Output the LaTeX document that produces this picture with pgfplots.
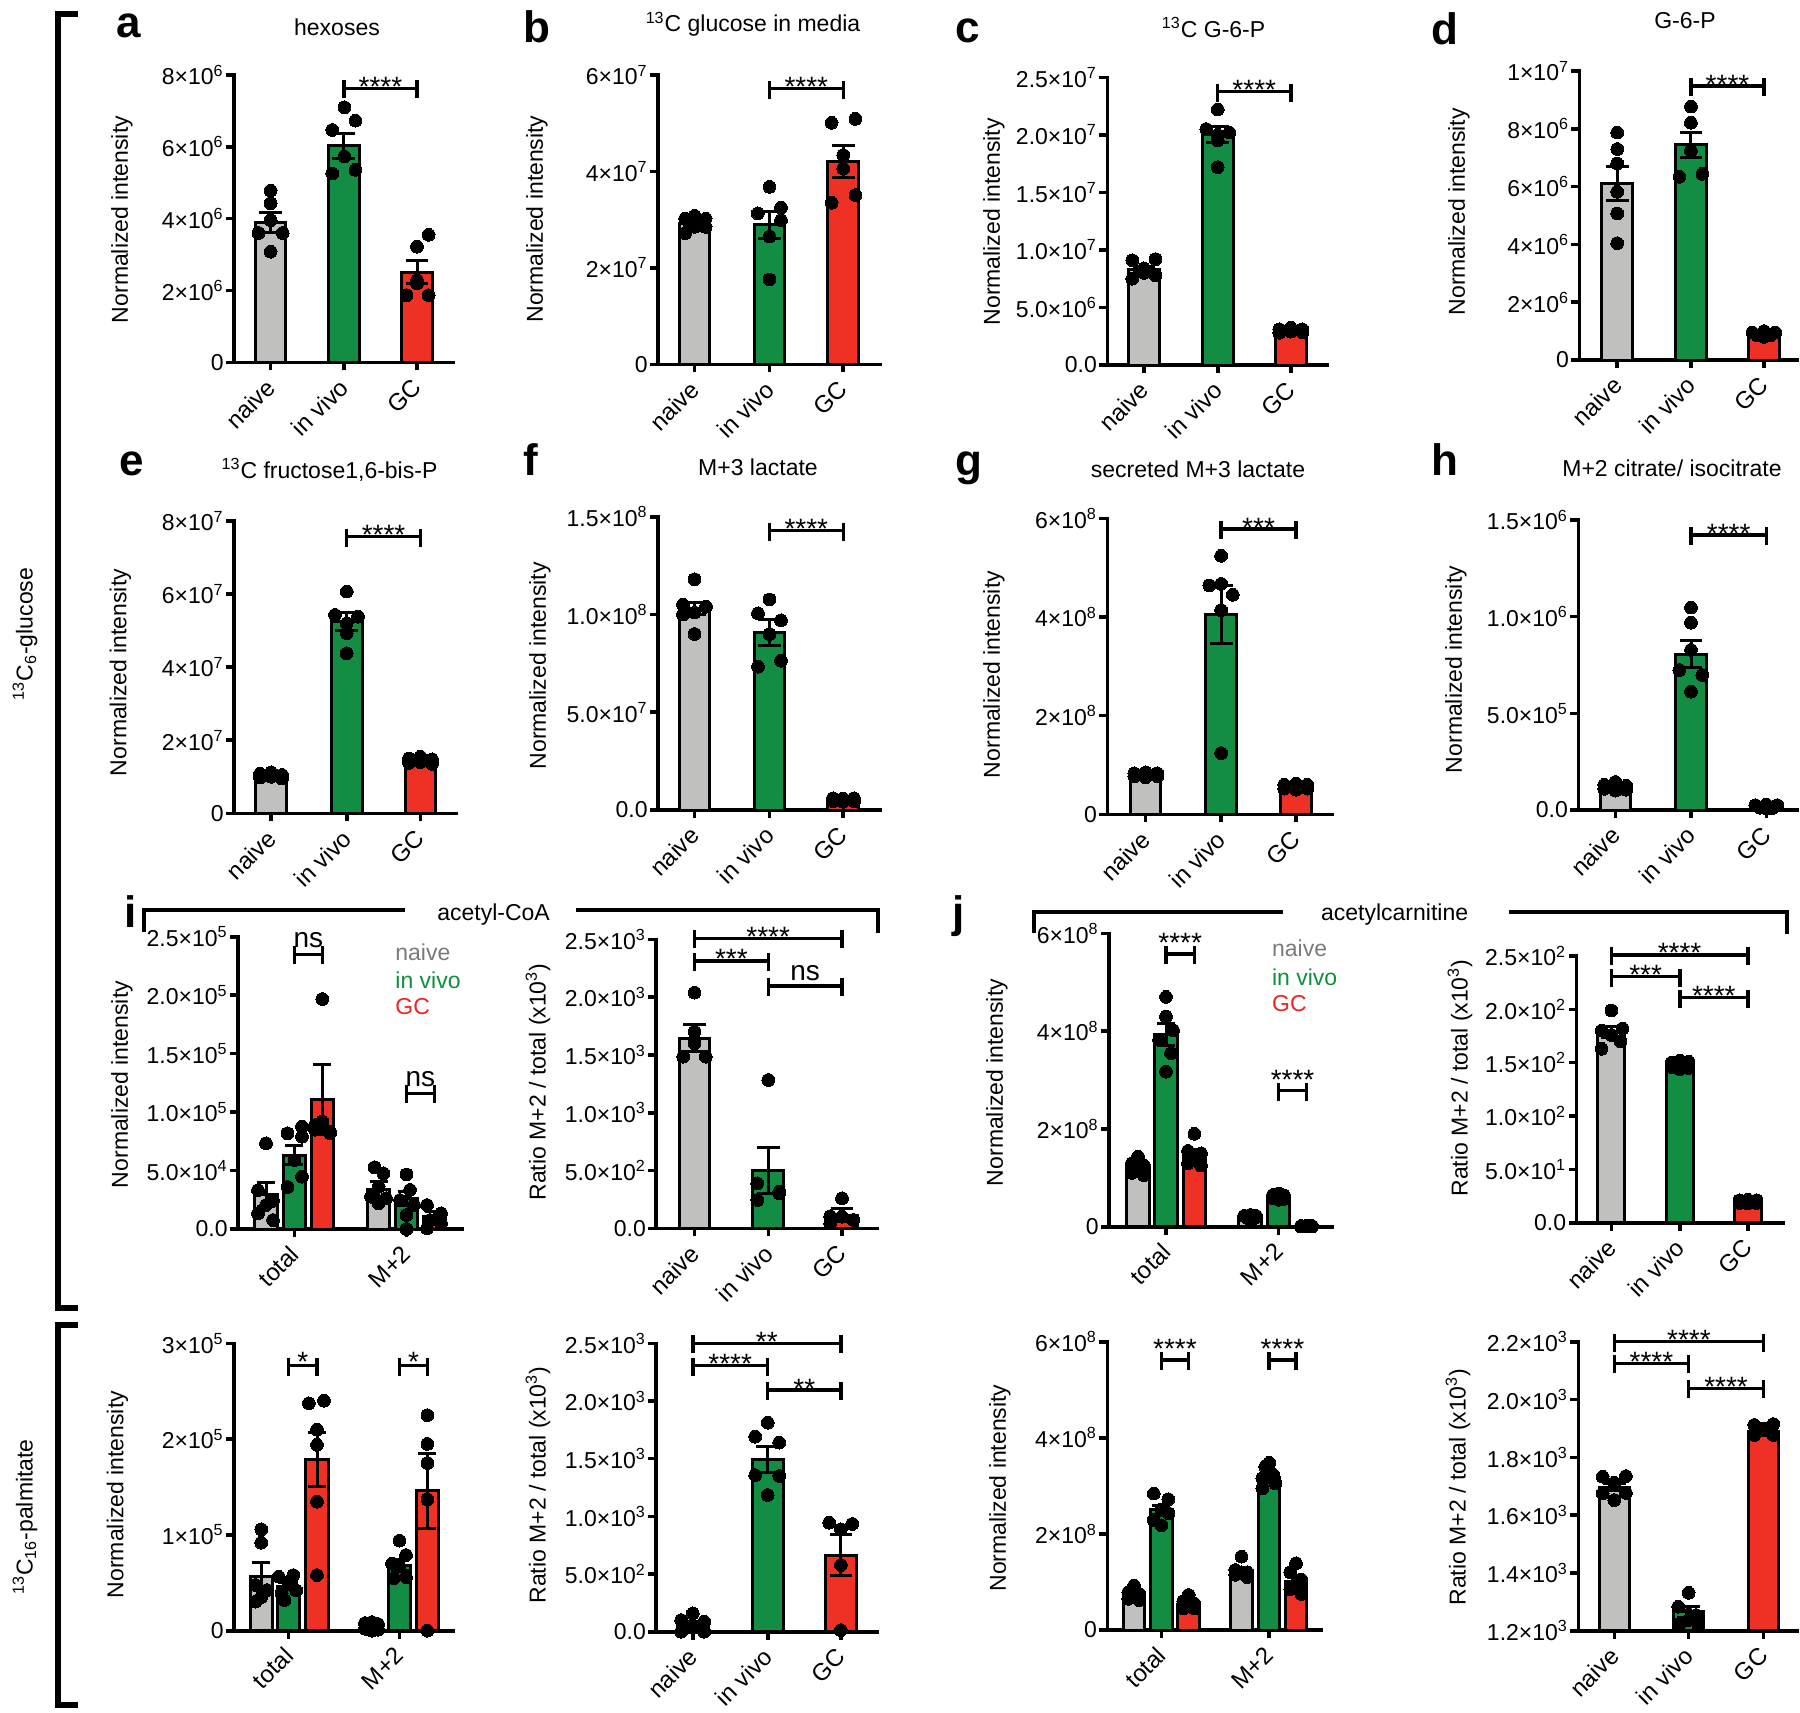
\documentclass[border=0pt]{standalone}
\usepackage{fontspec}
\setmainfont{Liberation Sans}
\usepackage{pgfplots}
\pgfplotsset{compat=1.18}
\usetikzlibrary{calc}
\definecolor{cgray}{RGB}{192,192,190}
\definecolor{cgreen}{RGB}{19,141,67}
\definecolor{cred}{RGB}{238,49,36}
\definecolor{lgray}{RGB}{122,122,122}
\definecolor{lgreen}{RGB}{13,143,62}
\definecolor{lred}{RGB}{238,34,34}
\newcommand{\sci}[2]{#1×10\textsuperscript{#2}}
\newcommand{\fs}[1]{\fontsize{#1}{#1}\selectfont}
\pgfplotsset{
  prism/.style={
    scale only axis, clip=false, anchor=south west, enlargelimits=false,
    axis lines=left, axis line style={-, line width=1.8pt, line cap=rect},
    tick align=outside, major tick length=4pt,
    tick style={line width=1.8pt, black},
    xmin=0, ymin=0, minor tick num=0, scaled ticks=false,
    yticklabel style={font=\fs{11.5}, anchor=east, inner sep=1pt},
    xticklabel style={font=\fs{12}, xshift=-3pt, yshift=1.5pt, rotate=45, anchor=north east},
  },
  mybar/.style={ybar, bar shift=0pt, bar width=#1, draw=black, line width=1.5pt},
  errb/.style={/pgfplots/error bars/y dir=both, /pgfplots/error bars/y explicit,
    /pgfplots/error bars/error bar style={line width=1.5pt, black},
    /pgfplots/error bars/error mark options={rotate=90, mark size=#1, line width=1.5pt, black}},
  dots/.style={only marks, mark=*, mark size=3.2pt, black, mark options={fill=black, draw=black, line width=0pt}},
}
% bracket: x1, x2, y, text, yshift of text
\newcommand{\brk}[5]{%
  \draw[line width=1.7pt] (axis cs:#1,#3) -- (axis cs:#2,#3);
  \draw[line width=1.7pt] ([yshift=4pt]axis cs:#1,#3) -- ([yshift=-5pt]axis cs:#1,#3);
  \draw[line width=1.7pt] ([yshift=4pt]axis cs:#2,#3) -- ([yshift=-5pt]axis cs:#2,#3);
  \node[anchor=base, inner sep=0pt, yshift=#5, font=\fs{14}] at ($(axis cs:#1,#3)!0.5!(axis cs:#2,#3)$) {#4};
}
\begin{document}
\begin{tikzpicture}
\useasboundingbox (0,0) rectangle (900pt,-856.5pt);

% ---------- a ----------
\begin{axis}[prism, at={(117pt,-181.15pt)}, width=109.5pt, height=143.65pt, xmax=219, ymax=8e6,
  ytick={0,2e6,4e6,6e6,8e6}, yticklabels={0,\sci{2}{6},\sci{4}{6},\sci{6}{6},\sci{8}{6}},
  xtick={36.6,109.8,183.0}, xticklabels={naive,in vivo,GC}]
\addplot[mybar=30.7, fill=cgray, errb=5.7pt] coordinates {(36.6,3.89e6) +- (0,0.28e6)};
\addplot[mybar=30.7, fill=cgreen, errb=5.7pt] coordinates {(109.8,6.03e6) +- (0,0.35e6)};
\addplot[mybar=30.7, fill=cred, errb=5.7pt] coordinates {(183.0,2.51e6) +- (0,0.32e6)};
\addplot[dots] coordinates {(36.6,4.78e6)(36.6,4.43e6)(36.6,3.96e6)(24.5,3.6e6)(48.7,3.6e6)(36.6,3.08e6)
 (110.4,7.10e6)(121.4,6.73e6)(98.2,6.47e6)(110.4,5.73e6)(121.4,5.36e6)(98.2,5.26e6)
 (194.6,3.55e6)(183,3.22e6)(183,2.29e6)(172.5,1.87e6)(194.6,1.87e6)(183,2.2e6)};
\brk{109.8}{183.0}{7.63e6}{****}{-4pt}
\end{axis}

% ---------- b ----------
\begin{axis}[prism, at={(329pt,-182.15pt)}, width=111pt, height=144.65pt, xmax=222, ymax=6e7,
  ytick={0,2e7,4e7,6e7}, yticklabels={0,\sci{2}{7},\sci{4}{7},\sci{6}{7}},
  xtick={36.5,111.5,185.2}, xticklabels={naive,in vivo,GC}]
\addplot[mybar=30.7, fill=cgray, errb=5.7pt] coordinates {(36.5,2.92e7) +- (0,0.05e7)};
\addplot[mybar=30.7, fill=cgreen, errb=5.7pt] coordinates {(111.5,2.89e7) +- (0,0.28e7)};
\addplot[mybar=30.7, fill=cred, errb=5.7pt] coordinates {(185.2,4.20e7) +- (0,0.33e7)};
\addplot[dots] coordinates {(27.2,3.02e7)(36.5,3.08e7)(47.6,3.02e7)(27.2,2.72e7)(47.6,2.85e7)(36.5,2.85e7)
 (111.5,3.68e7)(99.8,3.13e7)(123,2.99e7)(111.5,2.65e7)(111.5,1.76e7)(123,3.25e7)
 (173.6,5.01e7)(197.4,5.09e7)(185.2,4.34e7)(185.2,4.06e7)(173.6,3.35e7)(197.4,3.51e7)};
\brk{111.5}{185.2}{5.72e7}{****}{-4pt}
\end{axis}

% ---------- c ----------
\begin{axis}[prism, at={(553.65pt,-182.5pt)}, width=109.75pt, height=143.85pt, xmax=219.5, ymax=2.5e7,
  ytick={0,5e6,1e7,1.5e7,2e7,2.5e7}, yticklabels={0.0,\sci{5.0}{6},\sci{1.0}{7},\sci{1.5}{7},\sci{2.0}{7},\sci{2.5}{7}},
  xtick={36.6,110.4,183.5}, xticklabels={naive,in vivo,GC}]
\addplot[mybar=30.7, fill=cgray, errb=5.7pt] coordinates {(36.6,8.3e6) +- (0,0.3e6)};
\addplot[mybar=30.7, fill=cgreen, errb=5.7pt] coordinates {(110.4,2.0e7) +- (0,0.07e7)};
\addplot[mybar=30.7, fill=cred, errb=5.7pt] coordinates {(183.5,3.0e6) +- (0,0.1e6)};
\addplot[dots] coordinates {(25,9.1e6)(48.2,9.2e6)(36.6,8.4e6)(25,7.5e6)(48.2,7.8e6)(36.6,8.0e6)
 (110.4,2.22e7)(99,2.05e7)(122,2.02e7)(110.4,2.0e7)(110.4,1.95e7)(110.4,1.72e7)
 (172,3.1e6)(183.5,3.25e6)(195,3.1e6)(172,2.8e6)(195,2.85e6)(183.5,2.9e6)};
\brk{110.4}{183.5}{2.375e7}{****}{-4pt}
\end{axis}

% ---------- d ----------
\begin{axis}[prism, at={(789.7pt,-180pt)}, width=108.8pt, height=144.5pt, xmax=217.6, ymax=1e7,
  ytick={0,2e6,4e6,6e6,8e6,1e7}, yticklabels={0,\sci{2}{6},\sci{4}{6},\sci{6}{6},\sci{8}{6},\sci{1}{7}},
  xtick={37.8,111.5,184.7}, xticklabels={naive,in vivo,GC}]
\addplot[mybar=30.7, fill=cgray, errb=5.7pt] coordinates {(37.8,6.11e6) +- (0,0.6e6)};
\addplot[mybar=30.7, fill=cgreen, errb=5.7pt] coordinates {(111.5,7.44e6) +- (0,0.44e6)};
\addplot[mybar=30.7, fill=cred, errb=5.7pt] coordinates {(184.7,0.9e6) +- (0,0.04e6)};
\addplot[dots] coordinates {(37.8,7.87e6)(37.8,7.30e6)(37.8,6.8e6)(37.8,5.82e6)(37.8,5.07e6)(37.8,4.04e6)
 (111.5,8.77e6)(111.5,8.21e6)(111.5,7.24e6)(100,6.34e6)(123,6.44e6)
 (173,0.95e6)(184.7,1.0e6)(196,0.95e6)(178,0.85e6)(191,0.85e6)(184.7,0.8e6)};
\brk{111.5}{184.7}{9.48e6}{****}{-4pt}
\end{axis}

% ---------- e ----------
\begin{axis}[prism, at={(117pt,-406.65pt)}, width=110.95pt, height=146.15pt, xmax=221.9, ymax=8e7,
  ytick={0,2e7,4e7,6e7,8e7}, yticklabels={0,\sci{2}{7},\sci{4}{7},\sci{6}{7},\sci{8}{7}},
  xtick={37.2,112.7,186.4}, xticklabels={naive,in vivo,GC}]
\addplot[mybar=30.7, fill=cgray, errb=5.7pt] coordinates {(37.2,1.0e7) +- (0,0.04e7)};
\addplot[mybar=30.7, fill=cgreen, errb=5.7pt] coordinates {(112.7,5.25e7) +- (0,0.25e7)};
\addplot[mybar=30.7, fill=cred, errb=5.7pt] coordinates {(186.4,1.44e7) +- (0,0.04e7)};
\addplot[dots] coordinates {(26,1.08e7)(37.2,1.12e7)(48,1.05e7)(26,0.98e7)(48,0.95e7)(37.2,1.0e7)
 (112.7,6.07e7)(101,5.43e7)(124,5.38e7)(112.7,5.2e7)(112.7,4.93e7)(112.7,4.38e7)
 (175,1.5e7)(186.4,1.55e7)(198,1.48e7)(175,1.38e7)(198,1.35e7)(186.4,1.4e7)};
\brk{112.7}{186.4}{7.57e7}{****}{-4pt}
\end{axis}

% ---------- f ----------
\begin{axis}[prism, at={(329pt,-405pt)}, width=111pt, height=146.65pt, xmax=222, ymax=1.5e8,
  ytick={0,5e7,1e8,1.5e8}, yticklabels={0.0,\sci{5.0}{7},\sci{1.0}{8},\sci{1.5}{8}},
  xtick={36.5,111.5,185.2}, xticklabels={naive,in vivo,GC}]
\addplot[mybar=30.7, fill=cgray, errb=5.7pt] coordinates {(36.5,1.03e8) +- (0,0.03e8)};
\addplot[mybar=30.7, fill=cgreen, errb=5.7pt] coordinates {(111.5,0.907e8) +- (0,0.065e8)};
\addplot[mybar=30.7, fill=cred, errb=5.7pt] coordinates {(185.2,0.051e8) +- (0,0.003e8)};
\addplot[dots] coordinates {(36.5,1.18e8)(25,1.05e8)(48,1.04e8)(36.5,1.01e8)(25,1.0e8)(36.5,0.90e8)
 (111.5,1.077e8)(100,1.006e8)(123,0.97e8)(111.5,0.90e8)(100,0.733e8)(123,0.764e8)
 (175,0.06e8)(185.2,0.058e8)(196,0.06e8)(175,0.045e8)(196,0.045e8)(185.2,0.042e8)};
\brk{111.5}{185.2}{1.428e8}{****}{-4pt}
\end{axis}

% ---------- g ----------
\begin{axis}[prism, at={(553.65pt,-407.15pt)}, width=112.65pt, height=148pt, xmax=225.3, ymax=6e8,
  ytick={0,2e8,4e8,6e8}, yticklabels={0,\sci{2}{8},\sci{4}{8},\sci{6}{8}},
  xtick={38.3,113.8,188.7}, xticklabels={naive,in vivo,GC}]
\addplot[mybar=30.7, fill=cgray, errb=5.7pt] coordinates {(38.3,0.80e8) +- (0,0.02e8)};
\addplot[mybar=30.7, fill=cgreen, errb=5.7pt] coordinates {(113.8,4.05e8) +- (0,0.58e8)};
\addplot[mybar=30.7, fill=cred, errb=5.7pt] coordinates {(188.7,0.547e8) +- (0,0.02e8)};
\addplot[dots] coordinates {(27,0.83e8)(38.3,0.85e8)(50,0.83e8)(27,0.77e8)(50,0.77e8)(38.3,0.75e8)
 (113.8,5.24e8)(102,4.64e8)(113.8,4.67e8)(125.5,4.45e8)(113.8,4.14e8)(113.8,1.24e8)
 (177,0.6e8)(188.7,0.62e8)(200,0.6e8)(177,0.52e8)(200,0.52e8)(188.7,0.5e8)};
\brk{113.8}{188.7}{5.78e8}{***}{-4pt}
\end{axis}

% ---------- h ----------
\begin{axis}[prism, at={(789.15pt,-405pt)}, width=109.35pt, height=145pt, xmax=218.7, ymax=1.5e6,
  ytick={0,5e5,1e6,1.5e6}, yticklabels={0.0,\sci{5.0}{5},\sci{1.0}{6},\sci{1.5}{6}},
  xtick={37.1,112.7,188.1}, xticklabels={naive,in vivo,GC}]
\addplot[mybar=30.7, fill=cgray, errb=5.7pt] coordinates {(37.1,1.2e5) +- (0,0.08e5)};
\addplot[mybar=30.7, fill=cgreen, errb=5.7pt] coordinates {(112.7,8.05e5) +- (0,0.7e5)};
\addplot[mybar=30.7, fill=cred, errb=5.7pt] coordinates {(188.1,1.7e4) +- (0,0.3e4)};
\addplot[dots] coordinates {(26,1.3e5)(37.1,1.45e5)(48,1.25e5)(26,1.1e5)(48,1.05e5)(37.1,1.0e5)
 (112.7,1.047e6)(112.7,0.969e6)(112.7,0.828e6)(101,0.724e6)(124,0.698e6)(112.7,0.612e6)
 (177,2.5e4)(188.1,2.8e4)(199,2.5e4)(182,1.2e4)(194,1.0e4)(188.1,0.8e4)};
\brk{112.7}{188.1}{1.422e6}{****}{-4pt}
\end{axis}

% ---------- i left ----------
\begin{axis}[prism, at={(119pt,-614.5pt)}, width=111.85pt, height=146.15pt, xmax=223.7, ymax=2.5e5,
  ytick={0,5e4,1e5,1.5e5,2e5,2.5e5}, yticklabels={0.0,\sci{5.0}{4},\sci{1.0}{5},\sci{1.5}{5},\sci{2.0}{5},\sci{2.5}{5}},
  xtick={56.4,168.5}, xticklabels={total,M+2}]
\addplot[mybar=22.5, fill=cgray, errb=4.5pt] coordinates {(28,2.96e4) +- (0,1.0e4) (140.6,3.34e4) +- (0,0.7e4)};
\addplot[mybar=22.5, fill=cgreen, errb=4.5pt] coordinates {(56.4,6.33e4) +- (0,0.85e4) (168.5,2.62e4) +- (0,0.57e4)};
\addplot[mybar=22.5, fill=cred, errb=4.5pt] coordinates {(84.3,1.109e5) +- (0,0.3e5) (196.4,1.05e4) +- (0,0.43e4)};
\addplot[dots] coordinates {(28,7.33e4)(20,3.33e4)(35,2.48e4)(28,2.05e4)(20,1.34e4)(35,0.77e4)
 (49.5,8.18e4)(64,8.75e4)(64,7.9e4)(56.4,5.9e4)(49.5,3.6e4)(64,4.48e4)
 (84.3,1.967e5)(77,0.889e5)(92,0.832e5)(84.3,0.92e5)(77,0.85e5)(92,0.82e5)
 (136.6,5.27e4)(145.3,4.76e4)(140.6,3.62e4)(133,2.77e4)(148,2.62e4)(140.6,2.2e4)
 (168.5,4.67e4)(172,3.34e4)(162,2.48e4)(176,2.05e4)(168.5,1.2e4)(168.5,0.0)
 (189,2.05e4)(203,1.34e4)(192,0.77e4)(203,0.48e4)(189,0.06e4)};
\brk{56.4}{84.3}{2.35e5}{ns}{3.5pt}
\brk{168.5}{196.4}{1.16e5}{ns}{3.5pt}
\end{axis}

% ---------- i right ----------
\begin{axis}[prism, at={(328.1pt,-614.15pt)}, width=110.35pt, height=144.5pt, xmax=220.7, ymax=2500,
  ytick={0,500,1000,1500,2000,2500}, yticklabels={0.0,\sci{5.0}{2},\sci{1.0}{3},\sci{1.5}{3},\sci{2.0}{3},\sci{2.5}{3}},
  xtick={38.3,112.1,185.8}, xticklabels={naive,in vivo,GC}]
\addplot[mybar=30.7, fill=cgray, errb=5.7pt] coordinates {(38.3,1643) +- (0,116)};
\addplot[mybar=30.7, fill=cgreen, errb=5.7pt] coordinates {(112.1,499) +- (0,200)};
\addplot[mybar=30.7, fill=cred, errb=5.7pt] coordinates {(185.8,115) +- (0,58)};
\addplot[dots] coordinates {(38.3,2039)(38.3,1701)(38.3,1600)(27,1485)(49.6,1485)
 (112.1,1283)(101,389)(123,317)(101,245)(123,303)
 (185.8,260)(174,43)(197,72)(185.8,100)(174,105)};
\brk{38.3}{185.8}{2509}{****}{-4pt}
\brk{38.3}{112.1}{2313}{***}{-4pt}
\brk{112.1}{185.8}{2096}{ns}{3pt}
\end{axis}

% ---------- j left ----------
\begin{axis}[prism, at={(554.5pt,-613.35pt)}, width=111.8pt, height=146.7pt, xmax=223.6, ymax=6e8,
  ytick={0,2e8,4e8,6e8}, yticklabels={0,\sci{2}{8},\sci{4}{8},\sci{6}{8}},
  xtick={57,169.6}, xticklabels={total,M+2}]
\addplot[mybar=22.5, fill=cgray, errb=4.5pt] coordinates {(29,1.227e8) +- (0,0.06e8) (141.2,0.2e8) +- (0,0.01e8)};
\addplot[mybar=22.5, fill=cgreen, errb=4.5pt] coordinates {(57,3.93e8) +- (0,0.23e8) (169.6,0.61e8) +- (0,0.02e8)};
\addplot[mybar=22.5, fill=cred, errb=4.5pt] coordinates {(85.4,1.48e8) +- (0,0.1e8) (197.5,0.01e8) +- (0,0.002e8)};
\addplot[dots] coordinates {(29,1.43e8)(23,1.3e8)(35,1.25e8)(29,1.2e8)(23,1.1e8)(35,1.05e8)
 (57,4.70e8)(57,4.30e8)(64,4.02e8)(50,3.82e8)(62,3.55e8)(57,3.17e8)
 (85.4,1.90e8)(79,1.55e8)(92,1.5e8)(85.4,1.4e8)(79,1.3e8)(92,1.25e8)
 (135,0.22e8)(141.2,0.24e8)(147,0.22e8)(138,0.18e8)(145,0.17e8)(141.2,0.16e8)
 (164,0.65e8)(169.6,0.68e8)(175,0.64e8)(164,0.58e8)(175,0.57e8)(169.6,0.55e8)
 (192,0.015e8)(197.5,0.02e8)(203,0.015e8)(192,0.005e8)(203,0.005e8)(197.5,0.01e8)};
\brk{57}{85.4}{5.58e8}{****}{0.5pt}
\brk{169.6}{197.5}{2.78e8}{****}{0.5pt}
\end{axis}

% ---------- j right ----------
\begin{axis}[prism, at={(788.25pt,-611.35pt)}, width=103.1pt, height=133.35pt, xmax=206.2, ymax=250,
  ytick={0,50,100,150,200,250}, yticklabels={0.0,\sci{5.0}{1},\sci{1.0}{2},\sci{1.5}{2},\sci{2.0}{2},\sci{2.5}{2}},
  xtick={34.9,103.4,171.3}, xticklabels={naive,in vivo,GC}]
\addplot[mybar=27, fill=cgray, errb=5.2pt] coordinates {(34.9,179) +- (0,5)};
\addplot[mybar=27, fill=cgreen, errb=5.2pt] coordinates {(103.4,148) +- (0,2)};
\addplot[mybar=27, fill=cred, errb=5.2pt] coordinates {(171.3,19.7) +- (0,0.6)};
\addplot[dots] coordinates {(34.9,199)(46,182)(25,180)(34.9,176)(44,170)(25,163)
 (95,150)(103.4,152)(112,151)(95,146)(112,145)(103.4,144)
 (163,21)(171.3,21.5)(180,21)(163,18.5)(180,18.5)(171.3,18)};
\brk{34.9}{171.3}{251}{****}{-4pt}
\brk{34.9}{103.4}{230.6}{***}{-4pt}
\brk{103.4}{171.3}{211}{****}{-4pt}
\end{axis}

% ---------- row 4 a ----------
\begin{axis}[prism, at={(117pt,-815.35pt)}, width=109.5pt, height=143.7pt, xmax=219, ymax=3e5,
  ytick={0,1e5,2e5,3e5}, yticklabels={0,\sci{1}{5},\sci{2}{5},\sci{3}{5}},
  xtick={54.6,165.5}, xticklabels={total,M+2}]
\addplot[mybar=22.5, fill=cgray, errb=4.5pt] coordinates {(27.3,0.571e5) +- (0,0.14e5) (137.7,0.04e5) +- (0,0.01e5)};
\addplot[mybar=22.5, fill=cgreen, errb=4.5pt] coordinates {(54.6,0.466e5) +- (0,0.04e5) (165.5,0.686e5) +- (0,0.06e5)};
\addplot[mybar=22.5, fill=cred, errb=4.5pt] coordinates {(83,1.789e5) +- (0,0.28e5) (193.4,1.462e5) +- (0,0.39e5)};
\addplot[dots] coordinates {(27.3,1.058e5)(27.3,0.919e5)(21.5,0.477e5)(33,0.425e5)(27.3,0.35e5)(21.5,0.303e5)
 (44.7,0.564e5)(59.3,0.58e5)(54.6,0.51e5)(47.6,0.39e5)(62.2,0.42e5)(50.5,0.32e5)
 (74.9,2.374e5)(90,2.40e5)(83,2.10e5)(83,1.94e5)(83,1.347e5)(83,0.581e5)
 (131,0.08e5)(137.7,0.09e5)(144,0.07e5)(131,0.02e5)(144,0.01e5)(137.7,0.0)
 (165.5,0.94e5)(172,0.79e5)(158,0.70e5)(165.5,0.67e5)(160,0.55e5)(172,0.56e5)
 (193.4,2.25e5)(193.4,1.95e5)(193.4,1.75e5)(193.4,1.37e5)(193.4,0.0)};
\brk{54.6}{83}{2.767e5}{*}{-3pt}
\brk{165.5}{193.4}{2.767e5}{*}{-3pt}
\end{axis}

% ---------- row 4 b ----------
\begin{axis}[prism, at={(328.1pt,-815.85pt)}, width=110.35pt, height=144.2pt, xmax=220.7, ymax=2500,
  ytick={0,500,1000,1500,2000,2500}, yticklabels={0.0,\sci{5.0}{2},\sci{1.0}{3},\sci{1.5}{3},\sci{2.0}{3},\sci{2.5}{3}},
  xtick={36.6,111.5,184.7}, xticklabels={naive,in vivo,GC}]
\addplot[mybar=30.7, fill=cgray, errb=5.7pt] coordinates {(36.6,58) +- (0,25)};
\addplot[mybar=30.7, fill=cgreen, errb=5.7pt] coordinates {(111.5,1494) +- (0,110)};
\addplot[mybar=30.7, fill=cred, errb=5.7pt] coordinates {(184.7,665) +- (0,182)};
\addplot[dots] coordinates {(36.6,159)(25,101)(48,87)(36.6,58)(25,0)(48,0)
 (111.5,1812)(99,1691)(123,1639)(99,1358)(123,1350)(111.5,1185)
 (173,945)(196,934)(184.7,887)(184.7,578)(184.7,14)};
\brk{36.6}{184.7}{2500}{**}{-4pt}
\brk{36.6}{111.5}{2306}{****}{-4pt}
\brk{111.5}{184.7}{2095}{**}{-4pt}
\end{axis}

% ---------- row 4 c ----------
\begin{axis}[prism, at={(553.65pt,-815pt)}, width=106.85pt, height=144.15pt, xmax=213.7, ymax=6e8,
  ytick={0,2e8,4e8,6e8}, yticklabels={0,\sci{2}{8},\sci{4}{8},\sci{6}{8}},
  xtick={54,161.5}, xticklabels={total,M+2}]
\addplot[mybar=21.4, fill=cgray, errb=4.5pt] coordinates {(26.7,0.728e8) +- (0,0.04e8) (134.2,1.235e8) +- (0,0.06e8)};
\addplot[mybar=21.4, fill=cgreen, errb=4.5pt] coordinates {(54,2.50e8) +- (0,0.1e8) (161.5,3.17e8) +- (0,0.1e8)};
\addplot[mybar=21.4, fill=cred, errb=4.5pt] coordinates {(81.3,0.54e8) +- (0,0.04e8) (188.7,1.006e8) +- (0,0.09e8)};
\addplot[dots] coordinates {(26.7,0.92e8)(21,0.78e8)(32,0.75e8)(26.7,0.7e8)(21,0.65e8)(32,0.62e8)
 (46.5,2.84e8)(61,2.72e8)(54,2.5e8)(46.5,2.29e8)(54,2.18e8)(61,2.43e8)
 (81.3,0.73e8)(76,0.6e8)(87,0.55e8)(81.3,0.5e8)(76,0.45e8)(87,0.45e8)
 (134.2,1.526e8)(128,1.25e8)(140,1.2e8)(134.2,1.2e8)(128,1.15e8)(140,1.1e8)
 (162,3.48e8)(158,3.40e8)(155,3.16e8)(168,3.05e8)(155,2.95e8)(166,3.23e8)
 (188.7,1.39e8)(183,1.2e8)(194,1.05e8)(188.7,0.95e8)(183,0.85e8)(194,0.75e8)};
\brk{54}{81.3}{5.62e8}{****}{0.5pt}
\brk{161.5}{188.7}{5.62e8}{****}{0.5pt}
\end{axis}

% ---------- row 4 d ----------
\begin{axis}[prism, at={(789.15pt,-815.35pt)}, width=109.5pt, height=144.5pt, xmax=219, ymin=1200, ymax=2200,
  ytick={1200,1400,1600,1800,2000,2200}, yticklabels={\sci{1.2}{3},\sci{1.4}{3},\sci{1.6}{3},\sci{1.8}{3},\sci{2.0}{3},\sci{2.2}{3}},
  xtick={36,110.3,185.2}, xticklabels={naive,in vivo,GC}]
\addplot[fill=cgray, draw=black, line width=1.5pt] coordinates {(21,1200)(21,1696)(51,1696)(51,1200)(21,1200)};
\addplot[fill=cgreen, draw=black, line width=1.5pt] coordinates {(95.3,1200)(95.3,1266)(125.3,1266)(125.3,1200)(95.3,1200)};
\addplot[fill=cred, draw=black, line width=1.5pt] coordinates {(170.2,1200)(170.2,1891)(200.2,1891)(200.2,1200)(170.2,1200)};
\addplot[black, only marks, mark=none, errb=5.7pt] coordinates {(36,1696) +- (0,12) (110.3,1266) +- (0,19) (185.2,1891) +- (0,7)};
\addplot[dots] coordinates {(24.3,1733)(47.6,1735)(36,1712)(24.3,1675)(47.6,1677)(36,1652)
 (110.3,1331)(100,1283)(118,1254)(110.3,1237)(102,1225)(120,1220)
 (176,1912)(195,1915)(185.2,1894)(176,1877)(195,1877)(185.2,1900)};
\brk{36}{185.2}{2200}{****}{-4pt}
\brk{36}{110.3}{2125}{****}{-4pt}
\brk{110.3}{185.2}{2038.5}{****}{-4pt}
\end{axis}

% ---------- annotations ----------
\begin{scope}[x=0.5pt,y=-0.5pt]
% left brackets
\draw[line width=2.6pt] (78,14) -- (58,14) -- (58,1308) -- (78,1308);
\draw[line width=2.6pt] (78,1325) -- (58,1325) -- (58,1705) -- (78,1705);
\node[rotate=90, font=\fs{11.5}] at (25,634) {\textsuperscript{13}C\textsubscript{6}-glucose};
\node[rotate=90, font=\fs{11.5}] at (25,1517) {\textsuperscript{13}C\textsubscript{16}-palmitate};
% panel letters
\begin{scope}[every node/.style={anchor=base west, inner sep=0pt, font=\fs{22}\bfseries}]
\node at (116,38) {a};
\node at (523,42) {b};
\node at (955,42) {c};
\node at (1431,45) {d};
\node at (119,475) {e};
\node at (523,475) {f};
\node at (955,475) {g};
\node at (1431,475) {h};
\node at (124,927) {i};
\node at (952,927) {j};
\end{scope}
% titles
\begin{scope}[every node/.style={anchor=base, inner sep=0pt, font=\fs{11.5}}]
\node at (337,35) {hexoses};
\node at (753,32) {\textsuperscript{13}C glucose in media};
\node at (1213.6,37) {\textsuperscript{13}C G-6-P};
\node at (1685,28) {G-6-P};
\node at (329.5,478) {\textsuperscript{13}C fructose1,6-bis-P};
\node at (758,475) {M+3 lactate};
\node at (1198,477.7) {secreted M+3 lactate};
\node at (1672,476) {M+2 citrate/ isocitrate};
\node at (493.6,920) {acetyl-CoA};
\node at (1394.6,920.7) {acetylcarnitine};
\end{scope}
% group header lines
\draw[line width=2pt] (144,932) -- (144,910.3) -- (405,910.3);
\draw[line width=2pt] (576,910.3) -- (878,910.3) -- (878,933);
\draw[line width=2pt] (1033.6,933) -- (1033.6,911.7) -- (1283.3,911.7);
\draw[line width=2pt] (1508.6,911.7) -- (1786.8,911.7) -- (1786.8,934);
% y labels
\begin{scope}[every node/.style={rotate=90, inner sep=0pt, font=\fs{11.5}}]
\node at (122,219.5) {Normalized intensity};
\node at (537,219) {Normalized intensity};
\node at (994,221.7) {Normalized intensity};
\node at (1459,211.7) {Normalized intensity};
\node at (120.5,672.5) {Normalized intensity};
\node at (540,665.7) {Normalized intensity};
\node at (994,674.5) {Normalized intensity};
\node at (1456,669.5) {Normalized intensity};
\node at (122,1084.5) {Normalized intensity};
\node at (997,1082.5) {Normalized intensity};
\node at (117.5,1494.5) {Normalized intensity};
\node at (1000,1488) {Normalized intensity};
\node at (538,1082) {Ratio M+2 / total (x10\textsuperscript{3})};
\node at (1460,1078) {Ratio M+2 / total (x10\textsuperscript{3})};
\node at (538,1485) {Ratio M+2 / total (x10\textsuperscript{3})};
\node at (1458,1487) {Ratio M+2 / total (x10\textsuperscript{3})};
\end{scope}
% legends
\begin{scope}[every node/.style={anchor=base west, inner sep=0pt, font=\fs{11.5}}]
\node[text=lgray] at (395,960) {naive};
\node[text=lgreen] at (395,988.3) {in vivo};
\node[text=lred] at (395,1014) {GC};
\node[text=lgray] at (1271.7,956.7) {naive};
\node[text=lgreen] at (1271.7,985) {in vivo};
\node[text=lred] at (1271.7,1011.7) {GC};
\end{scope}
\end{scope}
\end{tikzpicture}
\end{document}
